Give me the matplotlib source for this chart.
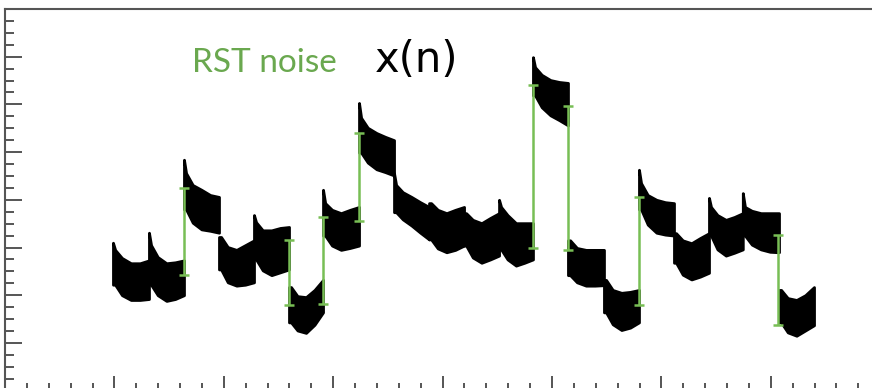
import matplotlib
matplotlib.use("Agg")
import matplotlib.pyplot as plt
from matplotlib.ticker import MultipleLocator
import numpy as np

# segment edges along n (20 reset periods)
seg_edges = [0.987, 1.316, 1.636, 1.956, 2.276, 2.596, 2.907, 3.236, 3.556, 3.876,
             4.196, 4.516, 4.826, 5.146, 5.475, 5.795, 6.115, 6.435, 6.744, 7.075, 7.395]

# spike at the start of each segment (None = no spike)
seg_spike = [3.10, 3.31, 4.84, None, 3.68, None, 4.21, 6.03, 4.56, None,
             None, 4.00, 6.99, None, None, 4.63, None, 4.04, 4.14, None]

# upper / lower edge of the noise band: start, 1/4, mid, 3/4, end
seg_upper = [
    [2.95, 2.78, 2.67, 2.67, 2.73],
    [3.05, 2.80, 2.67, 2.69, 2.73],
    [4.56, 4.31, 4.21, 4.10, 4.06],
    [3.22, 3.01, 2.95, 3.05, 3.15],
    [3.53, 3.36, 3.36, 3.41, 3.43],
    [2.17, 1.98, 1.96, 2.11, 2.32],
    [3.93, 3.79, 3.72, 3.79, 3.85],
    [5.72, 5.51, 5.40, 5.32, 5.25],
    [4.31, 4.16, 4.06, 3.95, 3.85],
    [3.93, 3.79, 3.72, 3.79, 3.85],
    [3.72, 3.58, 3.51, 3.62, 3.72],
    [3.85, 3.68, 3.51, 3.51, 3.51],
    [6.78, 6.62, 6.51, 6.47, 6.45],
    [3.15, 2.99, 2.95, 2.95, 2.95],
    [2.32, 2.11, 2.05, 2.07, 2.11],
    [4.35, 4.10, 4.00, 3.95, 3.93],
    [3.30, 3.15, 3.09, 3.20, 3.30],
    [3.85, 3.68, 3.58, 3.64, 3.72],
    [3.85, 3.77, 3.72, 3.72, 3.72],
    [2.11, 1.94, 1.90, 2.00, 2.17],
]
seg_lower = [
    [2.22, 2.00, 1.90, 1.90, 1.92],
    [2.22, 2.00, 1.88, 1.92, 2.00],
    [3.80, 3.52, 3.38, 3.35, 3.31],
    [2.54, 2.27, 2.20, 2.22, 2.27],
    [2.75, 2.52, 2.42, 2.48, 2.54],
    [1.43, 1.26, 1.21, 1.38, 1.64],
    [3.25, 3.04, 2.95, 2.99, 3.04],
    [4.99, 4.78, 4.64, 4.58, 4.51],
    [3.74, 3.59, 3.46, 3.31, 3.17],
    [3.17, 2.98, 2.90, 2.95, 3.04],
    [3.04, 2.79, 2.68, 2.75, 2.83],
    [2.96, 2.75, 2.62, 2.68, 2.75],
    [6.19, 5.94, 5.77, 5.67, 5.56],
    [2.42, 2.27, 2.20, 2.20, 2.21],
    [1.64, 1.39, 1.27, 1.32, 1.43],
    [3.80, 3.48, 3.31, 3.27, 3.25],
    [2.68, 2.43, 2.33, 2.39, 2.47],
    [3.25, 2.96, 2.83, 2.89, 2.96],
    [3.25, 3.06, 2.96, 2.91, 2.90],
    [1.43, 1.22, 1.15, 1.26, 1.37],
]

# RST noise markers: position, top, bottom
rst_x = [1.636, 2.596, 2.907, 3.236, 4.826, 5.146, 5.795, 7.066]
rst_top = [4.24, 3.15, 3.64, 5.40, 6.40, 5.96, 4.06, 3.26]
rst_bot = [2.42, 1.79, 1.82, 3.56, 2.99, 2.94, 1.79, 1.38]

GREEN = '#78be55'
TEXT_GREEN = '#6aa84f'
AXC = '#555555'

fig = plt.figure(figsize=(8.72, 3.88), dpi=100)
ax = fig.add_axes([5 / 872, -2.6 / 388, 875.2 / 872, 381.6 / 388])

frac = np.array([0.0, 0.06, 0.25, 0.5, 0.75, 1.0])
for i in range(len(seg_upper)):
    x0, x1 = seg_edges[i], seg_edges[i + 1]
    xs = x0 + (x1 - x0) * frac
    up = seg_upper[i]
    lo = seg_lower[i]
    top0 = seg_spike[i] if seg_spike[i] is not None else up[0]
    upper = [top0] + up
    lower = [lo[0]] + lo
    ax.fill_between(xs, lower, upper, color='black', lw=2.0, edgecolor='black')

ax.vlines(rst_x, rst_bot, rst_top, color=GREEN, lw=1.8, zorder=3)
ax.plot(rst_x, rst_top, ls='none', marker='_', ms=7, mew=1.8, color=GREEN, zorder=3)
ax.plot(rst_x, rst_bot, ls='none', marker='_', ms=7, mew=1.8, color=GREEN, zorder=3)

ax.text(1.71, 6.68, 'RST noise', color=TEXT_GREEN, fontsize=24, family='Lato',
        va='baseline', ha='left')
ax.text(3.38, 6.68, 'x(n)', color='black', fontsize=30, family='DejaVu Sans',
        va='baseline', ha='left')

ax.set_xlim(0, 8)
ax.set_ylim(0, 8)
ax.xaxis.set_major_locator(MultipleLocator(1))
ax.xaxis.set_minor_locator(MultipleLocator(0.2))
ax.yaxis.set_major_locator(MultipleLocator(1))
ax.yaxis.set_minor_locator(MultipleLocator(0.25))
ax.tick_params(which='both', direction='in', colors=AXC, width=1.4,
               labelbottom=False, labelleft=False)
ax.tick_params(axis='y', which='major', length=12.5)
ax.tick_params(axis='y', which='minor', length=6.5)
ax.tick_params(axis='x', which='major', length=11)
ax.tick_params(axis='x', which='minor', length=6)
ax.spines['right'].set_visible(False)
for s in ('left', 'top', 'bottom'):
    ax.spines[s].set_color(AXC)
    ax.spines[s].set_linewidth(1.5)

fig.savefig('out.png', dpi=100)
